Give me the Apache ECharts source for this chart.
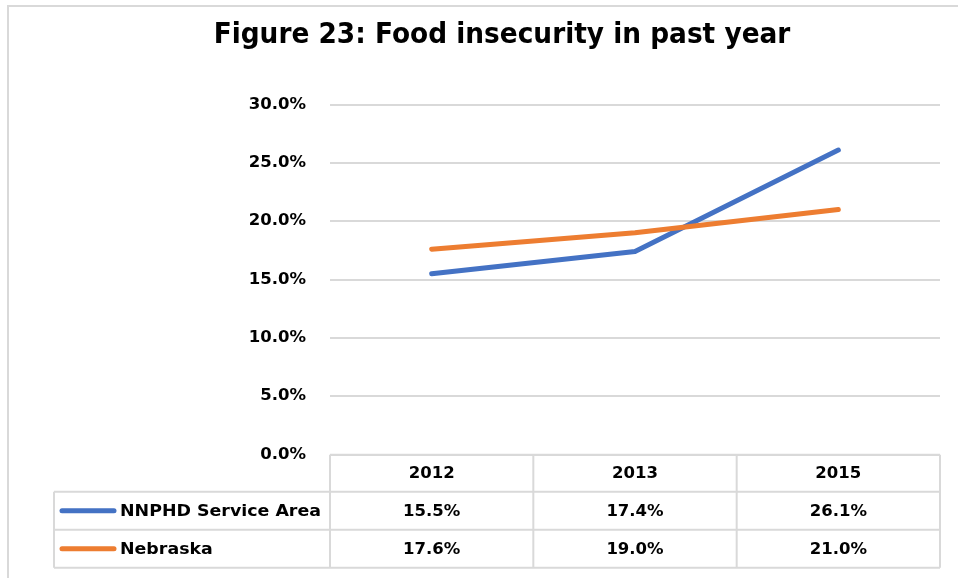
<!DOCTYPE html>
<html>
<head>
<meta charset="utf-8">
<style>
  html, body { margin: 0; padding: 0; background: #fff; }
  #chart { width: 958px; height: 578px; }
</style>
<script src="https://cdn.jsdelivr.net/npm/echarts@6/dist/echarts.min.js"></script>
</head>
<body>
<div id="chart"></div>
<script>
// Survey years and food-insecurity rates (%)
const years = ['2012', '2013', '2015'];
const seriesNames = ['NNPHD Service Area', 'Nebraska'];
const nnphdValues = [15.5, 17.4, 26.1];
const nebraskaValues = [17.6, 19.0, 21.0];
const seriesColors = ['#4472C4', '#ED7D31'];
const titleText = 'Figure 23: Food insecurity in past year';

const FONT = '"DejaVu Sans", Lato, sans-serif';
const INK = '#000000';
const RULE = '#D9D9D9';

const chart = echarts.init(document.getElementById('chart'), null, { renderer: 'canvas' });

const gridLeft = 330, gridRight = 18, gridTop = 104.5, gridBottom = 123.5;

chart.setOption({
  backgroundColor: '#ffffff',
  animation: false,
  grid: { left: gridLeft, right: gridRight, top: gridTop, bottom: gridBottom, containLabel: false },
  xAxis: {
    type: 'category',
    data: years,
    boundaryGap: true,
    axisLine: { show: false },
    axisTick: { show: false },
    axisLabel: { show: false },
    splitLine: { show: false }
  },
  yAxis: {
    type: 'value',
    min: 0, max: 30, interval: 5,
    axisLine: { show: false },
    axisTick: { show: false },
    axisLabel: {
      margin: 24,
      formatter: v => v.toFixed(1) + '%',
      fontFamily: FONT, fontWeight: 'bold', fontSize: 16.5, color: INK
    },
    splitLine: { lineStyle: { color: RULE, width: 2 } }
  },
  series: [nnphdValues, nebraskaValues].map((vals, i) => ({
    name: seriesNames[i],
    type: 'line',
    data: vals,
    symbol: 'none',
    lineStyle: { color: seriesColors[i], width: 5, cap: 'round', join: 'round' },
    itemStyle: { color: seriesColors[i] }
  }))
});

// Title plus the data table underneath the plot, laid out from the category axis
function drawTable() {
  const centers = years.map((y, i) => chart.convertToPixel({ xAxisIndex: 0 }, i));
  const band = centers[1] - centers[0];
  const colEdges = [centers[0] - band / 2].concat(centers.map(c => c + band / 2));
  const tableLeft = 54;
  const rowEdges = [454.7, 491.7, 529.7, 567.7];
  const elements = [];
  const line = (x1, y1, x2, y2) => elements.push({
    type: 'line', silent: true,
    shape: { x1, y1, x2, y2 },
    style: { stroke: RULE, lineWidth: 2 }
  });
  const text = (str, x, y, align, sx) => elements.push({
    type: 'text', silent: true, x, y, scaleX: sx || 1,
    style: {
      text: str, fill: INK, align: align || 'center', verticalAlign: 'middle',
      font: 'bold 16.5px ' + FONT
    }
  });

  // chart title, slightly condensed
  elements.push({
    type: 'text', silent: true, x: 502, y: 35.5, scaleX: 0.91,
    style: {
      text: titleText, fill: INK, align: 'center', verticalAlign: 'middle',
      font: 'bold 29px ' + FONT
    }
  });

  // horizontal rules
  line(colEdges[0], rowEdges[0], colEdges[3], rowEdges[0]);
  for (let r = 1; r < rowEdges.length; r++) line(tableLeft, rowEdges[r], colEdges[3], rowEdges[r]);
  // vertical rules
  colEdges.forEach(x => line(x, rowEdges[0], x, rowEdges[3]));
  line(tableLeft, rowEdges[1], tableLeft, rowEdges[3]);

  // header row
  years.forEach((y, i) => text(y, centers[i], (rowEdges[0] + rowEdges[1]) / 2 + 1));

  // series rows with legend keys
  [nnphdValues, nebraskaValues].forEach((vals, r) => {
    const cy = (rowEdges[r + 1] + rowEdges[r + 2]) / 2 + 1;
    elements.push({
      type: 'line', silent: true,
      shape: { x1: 62, y1: cy - 1, x2: 114, y2: cy - 1 },
      style: { stroke: seriesColors[r], lineWidth: 5, lineCap: 'round' }
    });
    text(seriesNames[r], 120, cy, 'left', 1.055);
    vals.forEach((v, i) => text(v.toFixed(1) + '%', centers[i], cy));
  });

  // outer frame of the chart
  elements.push({
    type: 'rect', silent: true,
    shape: { x: 8, y: 6, width: 960, height: 600 },
    style: { fill: 'none', stroke: RULE, lineWidth: 2 }
  });

  chart.setOption({ graphic: { elements } });
}
drawTable();
</script>
</body>
</html>
